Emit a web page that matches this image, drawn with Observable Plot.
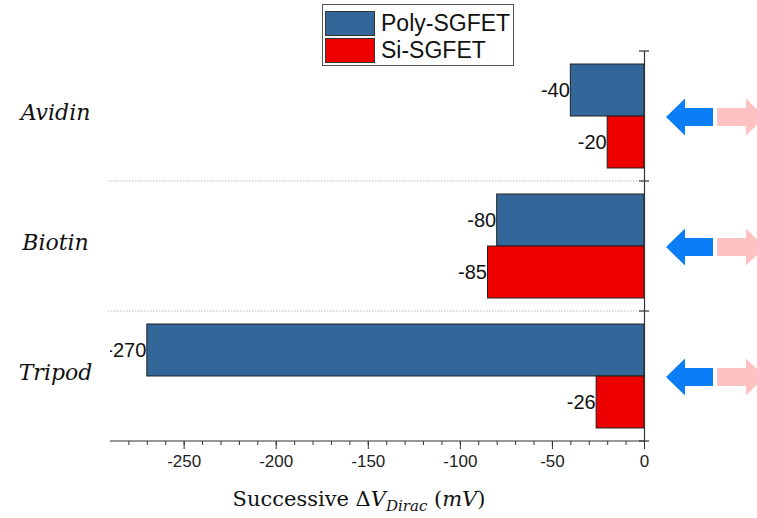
<!DOCTYPE html>
<html><head><meta charset="utf-8">
<script src="https://cdn.jsdelivr.net/npm/d3@7"></script>
<script src="https://cdn.jsdelivr.net/npm/@observablehq/plot@0.6"></script>
<style>
body{margin:0;background:#fff;}
#wrap{position:relative;width:757px;height:518px;overflow:hidden;}
#legend{position:absolute;left:322px;top:4px;width:190px;height:60px;border:1px solid #555;background:#fff;font-family:"Liberation Sans",Arial,sans-serif;font-size:23px;color:#111;}
.entry{position:absolute;left:2px;height:25px;display:flex;align-items:center;}
.sw{width:48px;height:23px;border:1px solid #333;margin-right:6px;}
</style></head>
<body><div id="wrap"><div id="legend"></div></div>
<script>
const categories = ["Avidin", "Biotin", "Tripod"];
const series = ["Poly-SGFET", "Si-SGFET"];
const polyValues = [-40, -80, -270];
const siValues = [-20, -85, -26];
const xTicks = [-250, -200, -150, -100, -50, 0];
const minorTicks = d3.range(-280, 1, 10);
const colors = ["#336699", "#ee0000"];

const data = categories.flatMap((c, i) => [
  {category: c, series: series[0], value: polyValues[i]},
  {category: c, series: series[1], value: siValues[i]}
]);

const chart = Plot.plot({
  width: 757, height: 518,
  marginLeft: 110, marginRight: 113, marginTop: 50, marginBottom: 76,
  style: {background: "transparent"},
  x: {domain: [-290, 0], label: null},
  y: {domain: series, axis: null, paddingInner: 0, paddingOuter: 0.25},
  fy: {domain: categories, axis: null, padding: 0, label: null},
  color: {domain: series, range: colors},
  marks: [
    Plot.barX(data, {x: "value", y: "series", fy: "category", fill: "series", stroke: "#222", strokeWidth: 1}),
    Plot.text(data, {x: "value", y: "series", fy: "category", text: d => String(d.value), textAnchor: "end", dx: -1, clip: true, fontSize: 20, fontFamily: "Liberation Sans, Arial, sans-serif", fill: "#111"}),
    Plot.text(categories, {fy: d => d, text: d => d, frameAnchor: "left", dx: -55, dy: -4, textAnchor: "middle", fontSize: 22, fontFamily: "DejaVu Serif, serif", fontStyle: "italic", fill: "#111"}),
    Plot.ruleX([0], {stroke: "#333", strokeWidth: 1.2}),
    Plot.axisX({ticks: minorTicks, tickSize: 4, text: null, stroke: "#333"}),
    Plot.axisX({ticks: xTicks, tickSize: 8, tickPadding: 5, tickFormat: d => String(d), fontSize: 17, fontFamily: "Liberation Sans, Arial, sans-serif", stroke: "#333", fill: "#222", label: null})
  ]
});
document.getElementById("wrap").prepend(chart);

const svg = d3.select(chart);
const xs = chart.scale("x"), fy = chart.scale("fy");
const x0 = xs.apply(0), xL = xs.range[0];
const bw = fy.bandwidth;
const bounds = categories.map(c => fy.apply(c)).concat([fy.apply(categories[categories.length - 1]) + bw]);
const g = svg.append("g");
// bottom axis line
g.append("line").attr("x1", xL).attr("x2", x0 + 0.5).attr("y1", bounds[bounds.length - 1]).attr("y2", bounds[bounds.length - 1]).attr("stroke", "#333").attr("stroke-width", 1.2);
// separators
bounds.slice(1, -1).forEach(y => {
  g.append("line").attr("x1", xL - 2).attr("x2", x0 - 4).attr("y1", y).attr("y2", y).attr("stroke", "#bbb").attr("stroke-dasharray", "1.5,1.5");
});
// category ticks on vertical axis
bounds.forEach(y => {
  g.append("line").attr("x1", x0 - 5).attr("x2", x0 + 5).attr("y1", y).attr("y2", y).attr("stroke", "#333").attr("stroke-width", 1.2);
});
// arrows
categories.forEach(c => {
  const cy = fy.apply(c) + bw / 2 + 1;
  const tip = x0 + 22, hb = x0 + 41, se = x0 + 69;
  g.append("path").attr("fill", "#0b7ef7")
    .attr("d", `M${tip},${cy} L${hb},${cy - 18.5} L${hb},${cy - 9} L${se},${cy - 9} L${se},${cy + 9} L${hb},${cy + 9} L${hb},${cy + 18.5} Z`);
  const ps = x0 + 73, pb = x0 + 102, pt = x0 + 121;
  g.append("path").attr("fill", "#ffc2c2")
    .attr("d", `M${ps},${cy - 9} L${pb},${cy - 9} L${pb},${cy - 18.5} L${pt},${cy} L${pb},${cy + 18.5} L${pb},${cy + 9} L${ps},${cy + 9} Z`);
});
// axis title
const t = svg.append("text").attr("x", 359).attr("y", 506).attr("text-anchor", "middle")
  .attr("font-family", "DejaVu Serif, serif").attr("font-size", 21).attr("fill", "#111");
t.append("tspan").text("Successive Δ");
t.append("tspan").attr("font-style", "italic").text("V");
t.append("tspan").attr("font-style", "italic").attr("font-size", 15).attr("dy", 5).text("Dirac");
t.append("tspan").attr("dy", -5).text(" (");
t.append("tspan").attr("font-style", "italic").text("mV");
t.append("tspan").text(")");

// legend
const legend = d3.select("#legend");
series.forEach((s, i) => {
  const e = legend.append("div").attr("class", "entry").style("top", (6 + i * 27) + "px");
  e.append("div").attr("class", "sw").style("background", colors[i]);
  e.append("span").text(s);
});
</script></body></html>
